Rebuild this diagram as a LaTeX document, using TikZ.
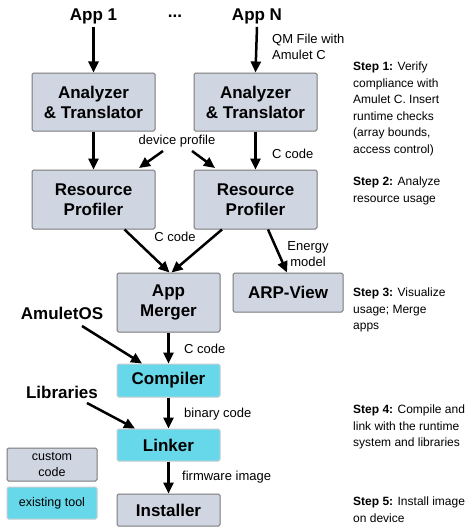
\documentclass[tikz,border=0pt]{standalone}
\usepackage{fontspec}
\setmainfont{Liberation Sans}
\usetikzlibrary{arrows.meta}
\definecolor{custfill}{RGB}{208,213,226}
\definecolor{toolfill}{RGB}{102,216,234}
\definecolor{boxline}{RGB}{120,120,120}
\definecolor{toolline}{RGB}{200,205,210}
\tikzset{
  box/.style={draw=boxline, line width=1pt, rounded corners=1.5pt, fill=custfill, align=center,
    font=\fontsize{17}{20}\selectfont\bfseries, inner sep=0pt},
  toolbox/.style={box, draw=toolline, fill=toolfill},
  big/.style={font=\fontsize{17}{20}\selectfont\bfseries, inner sep=0pt},
  lbl/.style={font=\fontsize{13}{16}\selectfont, inner sep=0pt, align=left},
  legtxt/.style={font=\fontsize{12.5}{16}\selectfont},
  steptxt/.style={font=\fontsize{12}{16.5}\selectfont, inner sep=0pt, align=left, anchor=north west},
  flow/.style={line width=2.5pt, -{Triangle[length=11pt,width=10pt]}}
}
\begin{document}
\begin{tikzpicture}[x=1pt,y=-1pt]
\useasboundingbox (0,0) rectangle (475,527);
% boxes
\node[box, minimum width=123pt, minimum height=58pt] (a1) at (93.5,102) {Analyzer\\\& Translator};
\node[box, minimum width=123pt, minimum height=58pt] (an) at (255.5,102) {Analyzer\\\& Translator};
\node[box, minimum width=123pt, minimum height=59pt] (r1) at (93.5,199.5) {Resource\\Profiler};
\node[box, minimum width=123pt, minimum height=59pt] (rn) at (255.5,199.5) {Resource\\Profiler};
\node[box, minimum width=103pt, minimum height=59pt] (m) at (168.5,302.5) {App\\Merger};
\node[box, minimum width=110pt, minimum height=39pt] (v) at (288,292.5) {ARP-View};
\node[toolbox, minimum width=103pt, minimum height=33pt] (c) at (168.5,380.5) {Compiler};
\node[toolbox, minimum width=103pt, minimum height=32pt] (l) at (168.5,445) {Linker};
\node[box, minimum width=103pt, minimum height=32pt] (i) at (168.5,510) {Installer};
\node[box, minimum width=90pt, minimum height=33pt, legtxt] (lc) at (52,464.5) {custom\\code};
\node[toolbox, minimum width=90pt, minimum height=32pt, legtxt] (lt) at (52,503) {existing tool};
% inputs
\node[big] (app1) at (93.5,16) {App 1};
\node[big] (dots) at (175,16) {...};
\node[big] (appn) at (257,16) {App N};
\node[big] (os) at (62,313) {AmuletOS};
\node[big] (lib) at (62,392) {Libraries};
% labels
\node[lbl, anchor=west] (qm) at (272,47) {QM File with\\Amulet C};
\node[lbl] (dp) at (177,141) {device profile};
\node[lbl, anchor=west] (cc1) at (272,153.5) {C code};
\node[lbl] (cc2) at (175,237) {C code};
\node[lbl, align=center] (em) at (308,254) {Energy\\model};
\node[lbl, anchor=west] (cc3) at (184,349) {C code};
\node[lbl, anchor=west] (bc) at (184,414) {binary code};
\node[lbl, anchor=west] (fw) at (182,477) {firmware image};
% steps
\node[steptxt] (s1) at (353,62) {\textbf{Step 1:} Verify\\compliance with\\Amulet C. Insert\\runtime checks\\(array bounds,\\access control)};
\node[steptxt] (s2) at (353,177) {\textbf{Step 2:} Analyze\\resource usage};
\node[steptxt] (s3) at (353,288) {\textbf{Step 3:} Visualize\\usage; Merge\\apps};
\node[steptxt] (s4) at (353,405) {\textbf{Step 4:} Compile and\\link with the runtime\\system and libraries};
\node[steptxt] (s5) at (353,497) {\textbf{Step 5:} Install image\\on device};
% connectors
\draw[flow] (app1.south) ++(0,3) -- (a1.north);
\draw[flow] (appn.south) ++(0,3) -- (an.north);
\draw[flow] (a1.south) -- (r1.north);
\draw[flow] (an.south) -- (rn.north);
\coordinate (dpl) at (163,151);
\coordinate (dpr) at (192,151);
\draw[flow] (dpl) -- (139,168);
\draw[flow] (dpr) -- (215,168);
\draw[flow] ([xshift=31pt]r1.south) -- ([xshift=1pt]m.north);
\draw[flow] ([xshift=-33.5pt]rn.south) -- ([xshift=3pt]m.north);
\draw[flow] ([xshift=12.5pt]rn.south) -- ([xshift=-1pt]v.north);
\draw[flow] (m.south) -- (c.north);
\coordinate (osend) at (82,326);
\draw[flow] (osend) -- ([xshift=-26.5pt]c.north);
\draw[flow] (c.south) -- (l.north);
\coordinate (libend) at (87,403);
\draw[flow] (libend) -- ([xshift=-33.5pt]l.north);
\draw[flow] (l.south) -- (i.north);
\end{tikzpicture}
\end{document}
